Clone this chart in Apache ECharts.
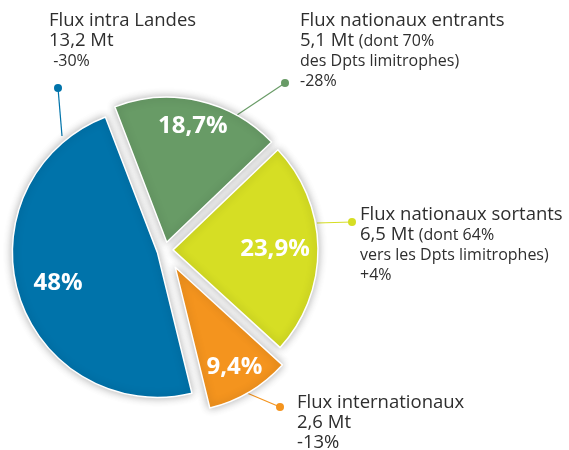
<!DOCTYPE html>
<html>
<head>
<meta charset="utf-8">
<script src="https://cdn.jsdelivr.net/npm/echarts@6/dist/echarts.min.js"></script>
<style>
html, body { margin: 0; padding: 0; background: #fff; }
#chart { width: 569px; height: 450px; }
</style>
</head>
<body>
<div id="chart"></div>
<script>
// données (ordre horaire depuis le haut)
var names = ['Flux nationaux entrants', 'Flux nationaux sortants', 'Flux internationaux', 'Flux intra Landes'];
var shares = [18.7, 23.9, 9.4, 48];
var tonnage = [5.1, 6.5, 2.6, 13.2];
var detail1 = ['(dont 70%', '(dont 64%', '', ''];
var detail2 = ['des Dpts limitrophes)', 'vers les Dpts limitrophes)', '', ''];
var evolution = ['-28%', '+4%', '-13%', '-30%'];

var colors = ['#689b66', '#d6de24', '#f4941e', '#0073aa'];
var explode = [8, 8, 20, 8];
var labelDist = [116, 99, 113, 101];   // distance du pourcentage au centre
var R = 145;
var FONT = '"Open Sans", Lato, sans-serif';

// position des étiquettes externes
var callouts = [
    { text: [300, 11], dot: [285, 83], from: [237, 115] },
    { text: [360, 205], dot: [352, 222], from: [317, 223] },
    { text: [297, 393], dot: [280, 407], from: [247, 393] },
    { text: [49, 11], dot: [58, 88], from: [62, 136] }
];

function fmt(v) {
    return String(v).replace('.', ',');
}

(function() {
    var myChart = echarts.init(document.getElementById('chart'));

    // show(i) : la part i est-elle dessinée par cette série
    function pieSeries(offset, radius, show, withLabel) {
        return {
            type: 'pie',
            center: [165, 250],
            radius: radius,
            startAngle: 111,
            clockwise: true,
            selectedMode: 'multiple',
            selectedOffset: offset,
            silent: true,
            animation: false,
            emphasis: { disabled: true },
            labelLine: { show: false },
            data: shares.map(function(v, i) {
                var visible = show(i) && !withLabel;
                return {
                    value: v,
                    name: names[i],
                    selected: true,
                    itemStyle: visible ? {
                        color: colors[i],
                        borderColor: '#fff',
                        borderWidth: 1.5,
                        shadowBlur: 8,
                        shadowColor: 'rgba(0,0,0,0.3)'
                    } : { color: 'rgba(0,0,0,0)', borderWidth: 0, shadowBlur: 0 },
                    label: {
                        show: withLabel && show(i),
                        position: 'inside',
                        formatter: fmt(v) + '%',
                        color: '#fff',
                        fontSize: 24,
                        fontWeight: 'bold',
                        fontFamily: FONT
                    }
                };
            })
        };
    }

    var series = [
        pieSeries(8, [0, R], function(i) { return explode[i] === 8; }, false),
        pieSeries(20, [0, R], function(i) { return explode[i] === 20; }, false)
    ];
    // une série transparente par pourcentage
    shares.forEach(function(v, k) {
        series.push(pieSeries(explode[k], [2 * labelDist[k] - R, R], function(i) { return i === k; }, true));
    });

    // étiquettes externes avec trait et pastille
    var graphics = [];
    callouts.forEach(function(c, i) {
        var lines = [names[i]];
        var second = fmt(tonnage[i]) + ' Mt';
        if (detail1[i]) second += ' {s|' + detail1[i] + '}';
        lines.push(second);
        if (detail2[i]) lines.push('{s|' + detail2[i] + '}');
        lines.push(i === 2 ? evolution[i] : '{s|' + (i === 3 ? ' ' : '') + evolution[i] + '}');

        graphics.push({
            type: 'line',
            silent: true,
            shape: { x1: c.from[0], y1: c.from[1], x2: c.dot[0], y2: c.dot[1] },
            style: { stroke: colors[i], lineWidth: 1.2 }
        });
        graphics.push({
            type: 'circle',
            silent: true,
            shape: { cx: c.dot[0], cy: c.dot[1], r: 4 },
            style: { fill: colors[i] }
        });
        graphics.push({
            type: 'text',
            silent: true,
            x: c.text[0],
            y: c.text[1],
            style: {
                text: lines.join('\n'),
                fill: '#2e2e2e',
                font: '18.5px ' + FONT,
                lineHeight: 20,
                verticalAlign: 'top',
                rich: {
                    s: { fontSize: 16, fontFamily: FONT, lineHeight: 20, fill: '#2e2e2e' }
                }
            }
        });
    });

    var option = {
        backgroundColor: '#fff',
        series: series,
        graphic: graphics
    };

    myChart.setOption(option);

    window.addEventListener('resize', function() {
        myChart.resize();
    });
})();
</script>
</body>
</html>
